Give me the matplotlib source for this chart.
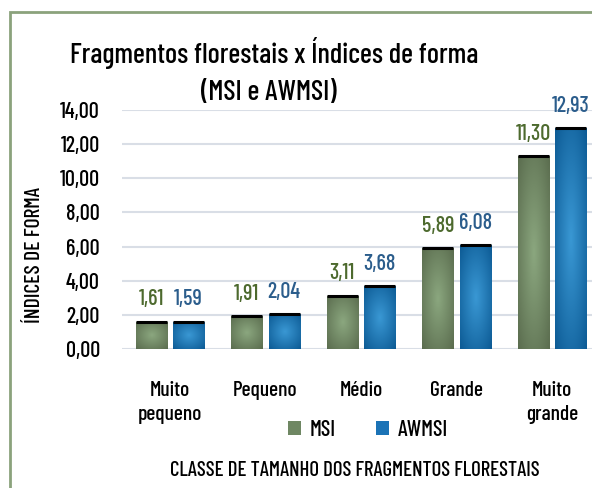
import numpy as np
import matplotlib
matplotlib.use("Agg")
import matplotlib.pyplot as plt
from matplotlib import font_manager
from matplotlib.patches import Rectangle, Patch
from matplotlib.colors import LinearSegmentedColormap

categories = ["Muito\npequeno", "Pequeno", "Médio", "Grande", "Muito\ngrande"]
msi = [1.61, 1.91, 3.11, 5.89, 11.30]
awmsi = [1.59, 2.04, 3.68, 6.08, 12.93]
yticks = [0, 2, 4, 6, 8, 10, 12, 14]
series_names = ["MSI", "AWMSI"]

names = {f.name for f in font_manager.fontManager.ttflist}
fam = [n for n in ["Barlow Condensed", "Archivo Narrow"] if n in names] + ["DejaVu Sans"]
plt.rcParams['font.family'] = fam
plt.rcParams['font.weight'] = 500

W, H = 592, 488
fig = plt.figure(figsize=(W / 100, H / 100), dpi=100)
ax = fig.add_axes([122 / W, 1 - 349 / H, 478 / W, (349 - 110) / H])

green_cmap = LinearSegmentedColormap.from_list("g", ["#8ba77f", "#5a6c4e"])
blue_cmap = LinearSegmentedColormap.from_list("b", ["#3a98d4", "#0c5a94"])

x = np.arange(len(categories))
bw = 0.325
off = 0.196

def grad_bars(xs, vals, cmap):
    bars = ax.bar(xs, vals, width=bw, color="none", edgecolor="none", zorder=2)
    yy, xx = np.mgrid[-1:1:120j, -1:1:60j]
    r = np.sqrt(xx ** 2 + yy ** 2) / np.sqrt(2)
    for b in bars:
        bx, by, bwid, bh = b.get_x(), b.get_y(), b.get_width(), b.get_height()
        im = ax.imshow(r, cmap=cmap, extent=[bx, bx + bwid, by, by + bh],
                       aspect="auto", origin="lower", zorder=2, vmin=0, vmax=1,
                       interpolation="bilinear")
        im.set_clip_path(b)
        ax.plot([bx, bx + bwid], [by + bh, by + bh], color="black", lw=2.2,
                zorder=3, solid_capstyle="butt")
    return bars

b1 = grad_bars(x - off, msi, green_cmap)
b2 = grad_bars(x + off, awmsi, blue_cmap)

for xi, v in zip(x - off, msi):
    ax.annotate(f"{v:.2f}".replace(".", ","), (xi, v), xytext=(0, 9),
                textcoords="offset points", ha="center", va="bottom",
                fontsize=16, color="#4d6a2e")
for xi, v in zip(x + off, awmsi):
    ax.annotate(f"{v:.2f}".replace(".", ","), (xi, v), xytext=(0, 9),
                textcoords="offset points", ha="center", va="bottom",
                fontsize=16, color="#2b5d8c")

ax.set_xlim(-0.5, len(categories) - 0.5)
ax.set_ylim(0, 14)
ax.set_yticks(yticks)
ax.set_yticklabels([f"{t:.2f}".replace(".", ",") for t in yticks], fontsize=16)
ax.set_xticks(x)
ax.set_xticklabels(categories, fontsize=15.5, linespacing=1.35)
ax.tick_params(axis="both", length=0)
ax.tick_params(axis="y", pad=16)
ax.tick_params(axis="x", pad=23)
for s in ax.spines.values():
    s.set_visible(False)
ax.yaxis.grid(True, color="#d9dee6", lw=1.5, zorder=0)
ax.set_axisbelow(True)

fig.text(274 / W, 1 - 53 / H, "Fragmentos florestais x Índices de forma",
         ha="center", va="center", fontsize=20.5)
fig.text(269 / W, 1 - 93 / H, "(MSI e AWMSI)", ha="center", va="center", fontsize=20.5)
fig.text(35 / W, 1 - 255 / H, "ÍNDICES DE FORMA", rotation=90, ha="center",
         va="center", fontsize=15.5)
fig.text(355 / W, 1 - 470 / H, "CLASSE DE TAMANHO DOS FRAGMENTOS FLORESTAIS",
         ha="center", va="center", fontsize=15)

handles = [Patch(facecolor="#6f8763"), Patch(facecolor="#1b73b6")]
fig.legend(handles, series_names, loc="center", bbox_to_anchor=(368 / W, 1 - 430 / H),
           ncol=2, frameon=False, fontsize=16, handlelength=0.6, handleheight=0.6,
           columnspacing=1.8, handletextpad=0.4)

fig.add_artist(Rectangle((10 / W, -0.1), 1.2, 1.1 - 12 / H, transform=fig.transFigure,
                         fill=False, edgecolor="#8ba27c", lw=2))

fig.savefig("out.png", dpi=100)
